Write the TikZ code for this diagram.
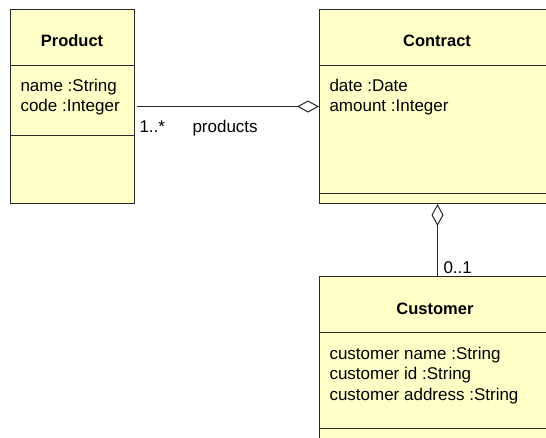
\documentclass[tikz,border=0pt]{standalone}
\usepackage{fontspec}
\setmainfont{Liberation Sans}
\usetikzlibrary{arrows.meta}
\definecolor{umlfill}{RGB}{255,255,200}
\definecolor{umlline}{RGB}{40,40,40}
\begin{document}
\begin{tikzpicture}[x=1pt,y=-1pt,line width=1pt,
  classbox/.style={draw=umlline,fill=umlfill,rectangle,inner sep=0pt,anchor=north west},
  divider/.style={draw=umlline},
  ctitle/.style={font=\fontsize{16.5}{20}\selectfont\bfseries,anchor=base,inner sep=0pt},
  attr/.style={font=\fontsize{17}{20}\selectfont,anchor=base west,inner sep=0pt},
  lbl/.style={font=\fontsize{17}{20}\selectfont,anchor=base west,inner sep=0pt},
  aggr/.style={draw=umlline,-{Diamond[open,length=22pt,width=12pt,line width=1pt]}}]
\useasboundingbox (0,0) rectangle (546,437);
\clip (0,0) rectangle (546,437);
% boxes
\node[classbox,minimum width=124pt,minimum height=194pt] (product) at (10,9) {};
\node[classbox,minimum width=236pt,minimum height=194pt] (contract) at (319,9) {};
\node[classbox,minimum width=236pt,minimum height=200pt] (customer) at (319,276) {};
% dividers
\draw[divider] (product.west |- 0,65) -- (product.east |- 0,65);
\draw[divider] (product.west |- 0,135) -- (product.east |- 0,135);
\draw[divider] (contract.west |- 0,65) -- (contract.east |- 0,65);
\draw[divider] (contract.west |- 0,193) -- (contract.east |- 0,193);
\draw[divider] (customer.west |- 0,332) -- (customer.east |- 0,332);
\draw[divider] (customer.west |- 0,428) -- (customer.east |- 0,428);
% titles
\node[ctitle] (ptitle) at (72,46.5) {Product};
\node[ctitle] (cttitle) at (437,46.5) {Contract};
\node[ctitle] (cutitle) at (435,314) {Customer};
% attributes
\node[attr] (pa1) at (20,91.5) {name :String};
\node[attr] (pa2) at (20,111.5) {code :Integer};
\node[attr] (ca1) at (329,91.5) {date :Date};
\node[attr] (ca2) at (329,111.5) {amount :Integer};
\node[attr] (ua1) at (329,359) {customer name :String};
\node[attr] (ua2) at (329,379.5) {customer id :String};
\node[attr] (ua3) at (329,400) {customer address :String};
% connectors
\coordinate (pend) at (product.east |- 0,106.5);
\coordinate (cend) at (contract.west |- 0,106.5);
\draw[aggr,shorten <=2pt] (pend) -- (cend);
\draw[aggr] (customer.north) -- (contract.south);
% labels
\node[lbl] (m1) at (139,132) {1..*};
\node[lbl] (rn) at (192,132) {products};
\node[lbl] (m2) at (443,273) {0..1};
\end{tikzpicture}
\end{document}
